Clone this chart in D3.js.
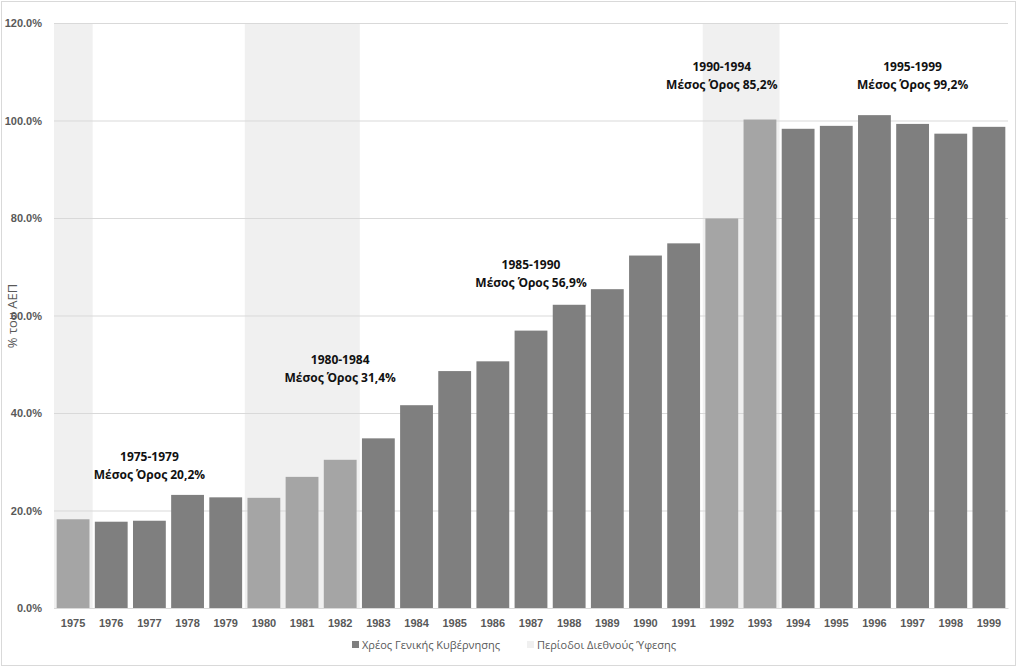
<!DOCTYPE html>
<html>
<head>
<meta charset="utf-8">
<script src="https://cdn.jsdelivr.net/npm/d3@7/dist/d3.min.js"></script>
<style>
  body { margin: 0; background: #fff; }
  svg { font-family: "Open Sans", "Noto Sans", sans-serif; }
</style>
</head>
<body>
<script>
'use strict';

var years = ['1975','1976','1977','1978','1979','1980','1981','1982','1983','1984',
             '1985','1986','1987','1988','1989','1990','1991','1992','1993','1994',
             '1995','1996','1997','1998','1999'];
var debt = [18.2, 17.7, 17.9, 23.2, 22.7, 22.6, 26.9, 30.4, 34.8, 41.6,
            48.6, 50.6, 56.9, 62.2, 65.4, 72.3, 74.8, 79.9, 100.2, 98.3,
            98.9, 101.1, 99.3, 97.3, 98.7];
var recessionYears = ['1975', '1980', '1981', '1982', '1992', '1993'];
var yTicks = [0, 20, 40, 60, 80, 100, 120];

// period annotations: label, average text, category they sit over, height (%)
var notePeriods = ['1975-1979', '1980-1984', '1985-1990', '1990-1994', '1995-1999'];
var noteAverages = ['Μέσος Όρος 20,2%', 'Μέσος Όρος 31,4%', 'Μέσος Όρος 56,9%', 'Μέσος Όρος 85,2%', 'Μέσος Όρος 99,2%'];
var noteYears = ['1977', '1982', '1987', '1992', '1997'];
var noteLevels = [30.2, 50.0, 69.6, 110.2, 110.2];

var legendNames = ['Χρέος Γενικής Κυβέρνησης', 'Περίοδοι Διεθνούς Ύφεσης'];

var width = 1024,
    height = 667;
var margin = {top: 23, right: 16, bottom: 59, left: 54};

var svg = d3.select('body').append('svg')
    .attr('width', width)
    .attr('height', height);

// outer chart border
svg.append('rect')
    .attr('x', 1.5).attr('y', 1.5)
    .attr('width', 1014).attr('height', 664)
    .attr('fill', 'none')
    .attr('stroke', '#d9d9d9');

var x = d3.scaleBand()
    .domain(years)
    .range([margin.left, width - margin.right])
    .padding(0);

var y = d3.scaleLinear()
    .domain([0, 120])
    .range([height - margin.bottom, margin.top]);

var isRecession = function(yr) { return recessionYears.indexOf(yr) >= 0; };

// recession shading
svg.append('g').selectAll('rect')
    .data(recessionYears)
  .enter().append('rect')
    .attr('x', function(d) { return x(d); })
    .attr('y', y(120))
    .attr('width', x.bandwidth() + 0.5)
    .attr('height', y(0) - y(120))
    .attr('fill', '#f0f0f0');

// gridlines + y labels
var yAxis = d3.axisLeft(y)
    .tickValues(yTicks)
    .tickSize(-(width - margin.right - margin.left))
    .tickPadding(12)
    .tickFormat(function(d) { return d.toFixed(1) + '%'; });

var gy = svg.append('g')
    .attr('transform', 'translate(' + margin.left + ',0)')
    .call(yAxis);
gy.select('.domain').remove();
gy.selectAll('line').attr('stroke', '#d9d9d9');
gy.selectAll('text')
    .attr('fill', '#595959')
    .attr('font-weight', 600)
    .style('font-size', '11px');

// bars
var bw = x.bandwidth();
svg.append('g').selectAll('rect')
    .data(years)
  .enter().append('rect')
    .attr('x', function(d) { return x(d) + bw * 0.07; })
    .attr('y', function(d, i) { return y(debt[i]); })
    .attr('width', bw * 0.86)
    .attr('height', function(d, i) { return y(0) - y(debt[i]); })
    .attr('fill', function(d) { return isRecession(d) ? '#a5a5a5' : '#7f7f7f'; });

// x axis
var gx = svg.append('g')
    .attr('transform', 'translate(0,' + y(0) + ')')
    .call(d3.axisBottom(x).tickSize(0).tickPadding(11));
gx.select('.domain').attr('stroke', '#d9d9d9');
gx.selectAll('text')
    .attr('fill', '#595959')
    .attr('font-weight', 600)
    .style('font-size', '11px');

// y title
svg.append('text')
    .attr('transform', 'translate(17,316) rotate(-90)')
    .attr('text-anchor', 'middle')
    .attr('fill', '#595959')
    .style('font-size', '13px')
    .text('% του ΑΕΠ');

// annotations
var notes = svg.append('g').selectAll('text')
    .data(notePeriods)
  .enter().append('text')
    .attr('text-anchor', 'middle')
    .attr('font-weight', 700)
    .attr('fill', '#111')
    .style('font-size', '12px');
notes.append('tspan')
    .attr('x', function(d, i) { return x(noteYears[i]) + bw / 2; })
    .attr('y', function(d, i) { return y(noteLevels[i]); })
    .text(function(d) { return d; });
notes.append('tspan')
    .attr('x', function(d, i) { return x(noteYears[i]) + bw / 2; })
    .attr('dy', 18)
    .text(function(d, i) { return noteAverages[i]; });

// legend
var legend = svg.append('g').attr('transform', 'translate(352,645)');
var legendX = [0, 175];
var legendFill = ['#7f7f7f', '#f0f0f0'];
var items = legend.selectAll('g')
    .data(legendNames)
  .enter().append('g')
    .attr('transform', function(d, i) { return 'translate(' + legendX[i] + ',0)'; });
items.append('rect')
    .attr('x', 0).attr('y', -4)
    .attr('width', 7).attr('height', 7)
    .attr('fill', function(d, i) { return legendFill[i]; });
items.append('text')
    .attr('x', 10).attr('y', 4)
    .attr('fill', '#595959')
    .style('font-size', '11px')
    .text(function(d) { return d; });
</script>
</body>
</html>
